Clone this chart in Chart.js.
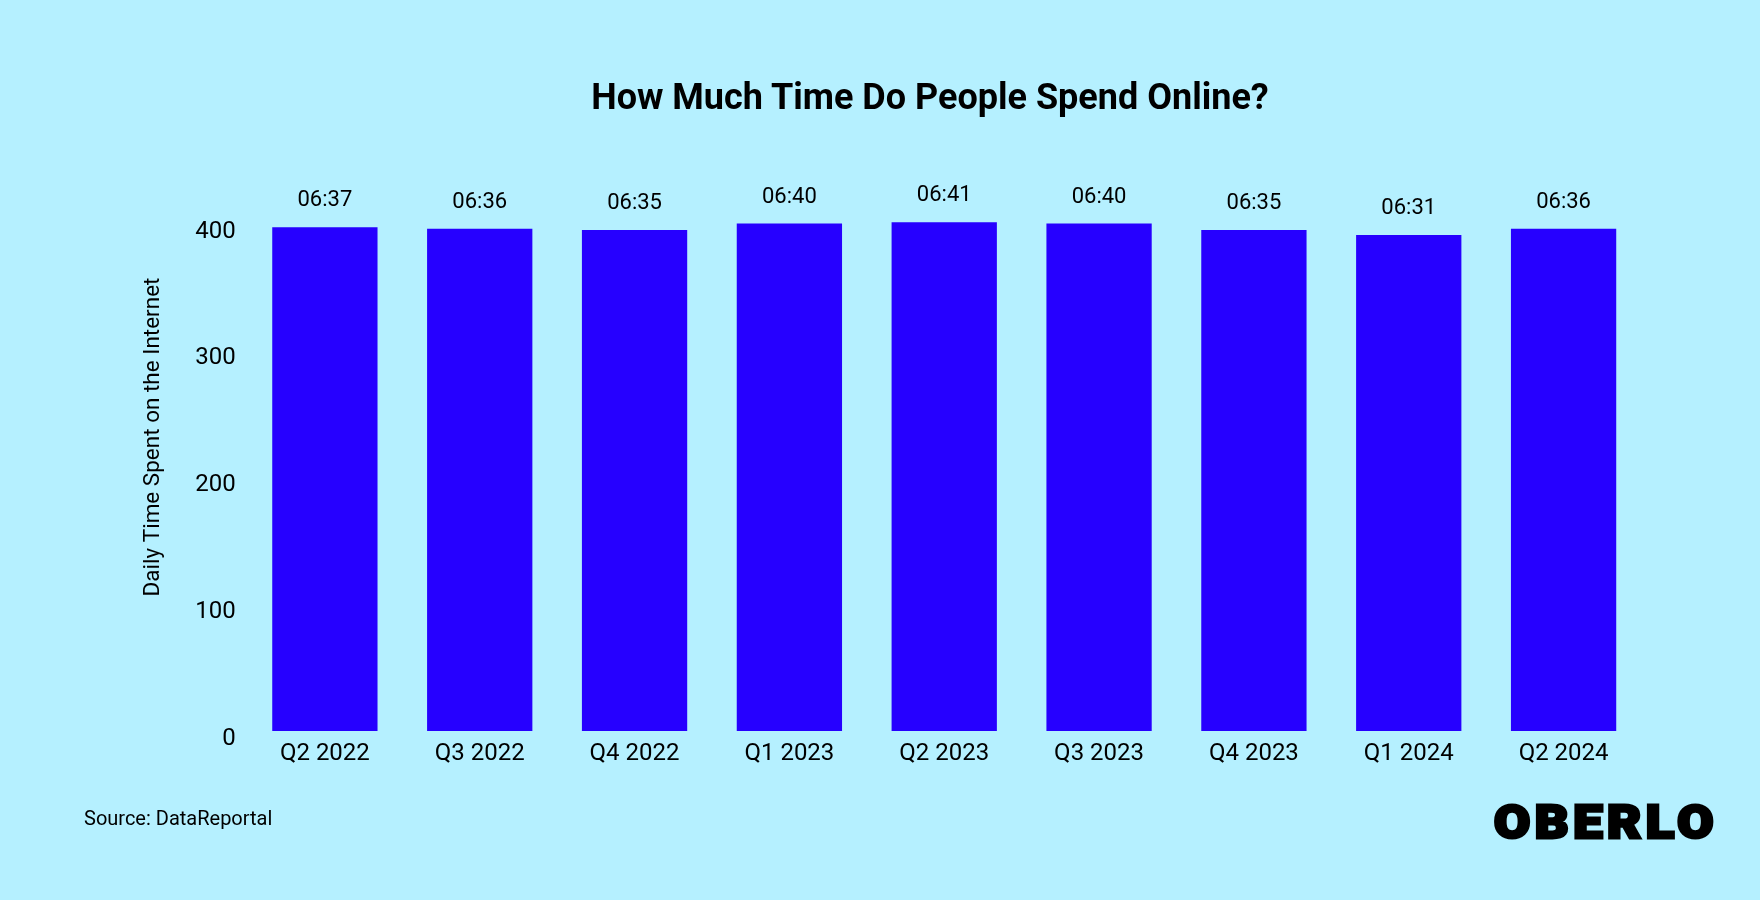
<!DOCTYPE html>
<html>
<head>
<meta charset="utf-8">
<title>How Much Time Do People Spend Online?</title>
<script src="https://cdn.jsdelivr.net/npm/chart.js@4.4.1/dist/chart.umd.min.js"></script>
<style>
  html, body { margin: 0; padding: 0; }
  body { width: 1760px; height: 900px; background: #b5f0ff; position: relative; overflow: hidden; font-family: Roboto, "Noto Sans", sans-serif; }
  #wrap { position: absolute; left: 0; top: 0; width: 1760px; height: 900px; }
  .title { position: absolute; top: 76px; left: 0; width: 1860px; text-align: center; font-size: 36px; font-weight: 700; color: #000; }
  .source { position: absolute; left: 84px; top: 806px; font-size: 20px; color: #000; }
  .logo { position: absolute; left: 1494px; top: 795px; font-size: 46px; font-weight: 900; letter-spacing: 4px; color: #000;
          -webkit-text-stroke: 3px #000; transform: scaleX(1.14); transform-origin: left center; }
</style>
</head>
<body>
<div id="wrap"><canvas id="chart" width="1760" height="900"></canvas></div>
<div class="title">How Much Time Do People Spend Online?</div>
<div class="source">Source: DataReportal</div>
<div class="logo">OBERLO</div>
<script>
// quarters and average daily minutes online (06:37 = 397 min, etc.)
const quarters = ['Q2 2022', 'Q3 2022', 'Q4 2022', 'Q1 2023', 'Q2 2023', 'Q3 2023', 'Q4 2023', 'Q1 2024', 'Q2 2024'];
const minutesOnline = [397, 396, 395, 400, 401, 400, 395, 391, 396];
const yTicks = [0, 100, 200, 300, 400];
const yTitle = 'Daily Time Spent on the Internet';

const toHHMM = (m) => {
  const h = Math.floor(m / 60);
  const mm = m % 60;
  return String(h).padStart(2, '0') + ':' + String(mm).padStart(2, '0');
};

// hh:mm text above every bar, plus the rotated y axis title
const barLabels = {
  id: 'barLabels',
  afterDatasetsDraw(chart) {
    const ctx = chart.ctx;
    const meta = chart.getDatasetMeta(0);
    ctx.save();
    ctx.font = '22px Roboto';
    ctx.fillStyle = '#000';
    ctx.textAlign = 'center';
    ctx.textBaseline = 'alphabetic';
    meta.data.forEach((bar, i) => {
      ctx.fillText(toHHMM(minutesOnline[i]), bar.x, bar.y - 21);
    });

    // axis title sits a bit above the middle of the plot, as in the original
    ctx.font = '22.5px Roboto';
    ctx.textBaseline = 'middle';
    ctx.translate(153, 437);
    ctx.rotate(-Math.PI / 2);
    ctx.fillText(yTitle, 0, 0);
    ctx.restore();
  }
};

const ctx = document.getElementById('chart').getContext('2d');
new Chart(ctx, {
  type: 'bar',
  data: {
    labels: quarters,
    datasets: [{
      data: minutesOnline,
      backgroundColor: '#2600ff',
      barPercentage: 0.68,
      categoryPercentage: 1
    }]
  },
  options: {
    responsive: false,
    animation: false,
    layout: { padding: { top: 198.2, left: 183.4, right: 119, bottom: 122.3 } },
    plugins: {
      legend: { display: false },
      tooltip: { enabled: false },
      title: { display: false }
    },
    scales: {
      x: {
        grid: { display: false, drawTicks: false },
        border: { display: false },
        ticks: { color: '#000', font: { family: 'Roboto', size: 24 }, padding: 9 }
      },
      y: {
        min: 0,
        max: 420,
        grid: { display: false, drawTicks: false },
        border: { display: false },
        afterBuildTicks(scale) {
          scale.ticks = yTicks.map(v => ({ value: v }));
        },
        ticks: { color: '#000', font: { family: 'Roboto', size: 24 }, padding: 11.8, labelOffset: 8 }
      }
    }
  },
  plugins: [barLabels]
});
</script>
</body>
</html>
